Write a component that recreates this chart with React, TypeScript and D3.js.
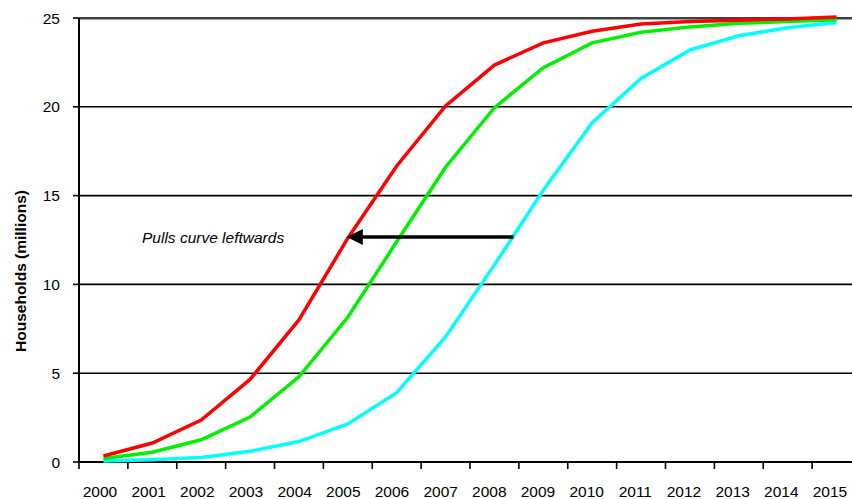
import React from "react";
import * as d3 from "d3";

const years = [
  "2000", "2001", "2002", "2003", "2004", "2005", "2006", "2007",
  "2008", "2009", "2010", "2011", "2012", "2013", "2014", "2015",
];

// Household adoption curves (millions)
const fastAdoption = [0.34, 1.07, 2.36, 4.65, 8.0, 12.6, 16.67, 20.05, 22.35, 23.6, 24.25, 24.66, 24.8, 24.88, 24.95, 25.05];
const midAdoption = [0.2, 0.55, 1.25, 2.53, 4.8, 8.15, 12.4, 16.6, 19.95, 22.2, 23.6, 24.2, 24.5, 24.7, 24.8, 24.9];
const baseAdoption = [0.05, 0.12, 0.25, 0.6, 1.15, 2.14, 3.9, 7.04, 11.1, 15.3, 19.1, 21.6, 23.2, 24.0, 24.45, 24.75];

const yTicks = [0, 5, 10, 15, 20, 25];

const seriesList = [
  { name: "base", values: baseAdoption, color: "#00FFFF" },
  { name: "mid", values: midAdoption, color: "#00F000" },
  { name: "fast", values: fastAdoption, color: "#FF0000" },
];

const arrowLevel = 12.67;
const annotation = "Pulls curve leftwards";

const W = 852;
const H = 499;
const FONT = "Arial, 'Liberation Sans', sans-serif";
const FS = 15.5;

export default function App() {
  const left = 79;
  const top = 18;
  const bottom = 462;

  const x = d3.scaleBand<string>().domain(years).range([left, 861]);
  const xLabel = d3.scalePoint<string>().domain(years).range([100, 830]);
  const y = d3.scaleLinear().domain([0, 25]).range([bottom, top]);
  const cx = (yr: string) => (x(yr) as number) + x.bandwidth() / 2;

  const line = d3
    .line<number>()
    .x((_, i) => cx(years[i]))
    .y((v) => y(v));

  const ay = y(arrowLevel);
  const arrowStart = cx("2008") + x.bandwidth() * 0.39;
  const arrowTip = cx("2005") - 1;

  return (
    <svg
      width={W}
      height={H}
      style={{ position: "absolute", left: 0, top: 0, background: "#fff" }}
      fontFamily={FONT}
    >
      {/* horizontal gridlines */}
      {yTicks.slice(1).map((t) => (
        <line
          key={t}
          x1={left}
          x2={W}
          y1={y(t)}
          y2={y(t)}
          stroke="#000"
          strokeWidth={t === 25 ? 1.5 : 1.6}
        />
      ))}
      <line x1={left} x2={W} y1={y(25) + 1.6} y2={y(25) + 1.6} stroke="#999" strokeWidth={1} />

      {/* y axis */}
      <line x1={left} x2={left} y1={top} y2={bottom} stroke="#000" strokeWidth={2} />
      {yTicks.map((t) => (
        <g key={t}>
          <line x1={left - 6} x2={left} y1={y(t)} y2={y(t)} stroke="#000" strokeWidth={1.6} />
          <text
            x={60}
            y={y(t)}
            dy="0.36em"
            textAnchor="end"
            fontSize={FS}
            fill="#000"
          >
            {t}
          </text>
        </g>
      ))}
      <text
        transform={`translate(21,${(top + bottom) / 2 + 31}) rotate(-90)`}
        textAnchor="middle"
        dy="0.35em"
        fontSize={FS}
        fontWeight="bold"
        fill="#000"
      >
        Households (millions)
      </text>

      {/* x axis */}
      <line x1={left} x2={W} y1={bottom} y2={bottom} stroke="#000" strokeWidth={2} />
      {years.map((yr) => (
        <line
          key={yr}
          x1={x(yr) as number}
          x2={x(yr) as number}
          y1={bottom}
          y2={bottom + 7}
          stroke="#000"
          strokeWidth={1.6}
        />
      ))}
      {years.map((yr) => (
        <text
          key={yr}
          x={xLabel(yr) as number}
          y={497}
          textAnchor="middle"
          fontSize={FS}
          fill="#000"
        >
          {yr}
        </text>
      ))}

      {/* adoption curves */}
      {seriesList.map((s) => (
        <path
          key={s.name}
          d={line(s.values) ?? ""}
          fill="none"
          stroke={s.color}
          strokeWidth={3.5}
          strokeLinejoin="miter"
        />
      ))}

      {/* annotation arrow */}
      <line x1={arrowStart} x2={arrowTip + 14} y1={ay} y2={ay} stroke="#000" strokeWidth={3.5} />
      <path
        d={`M${arrowTip},${ay} L${arrowTip + 16},${ay - 8} L${arrowTip + 16},${ay + 8} Z`}
        fill="#000"
      />
      <text
        x={142}
        y={ay}
        dy="0.36em"
        fontSize={FS}
        fontStyle="italic"
        fill="#000"
      >
        {annotation}
      </text>
    </svg>
  );
}
